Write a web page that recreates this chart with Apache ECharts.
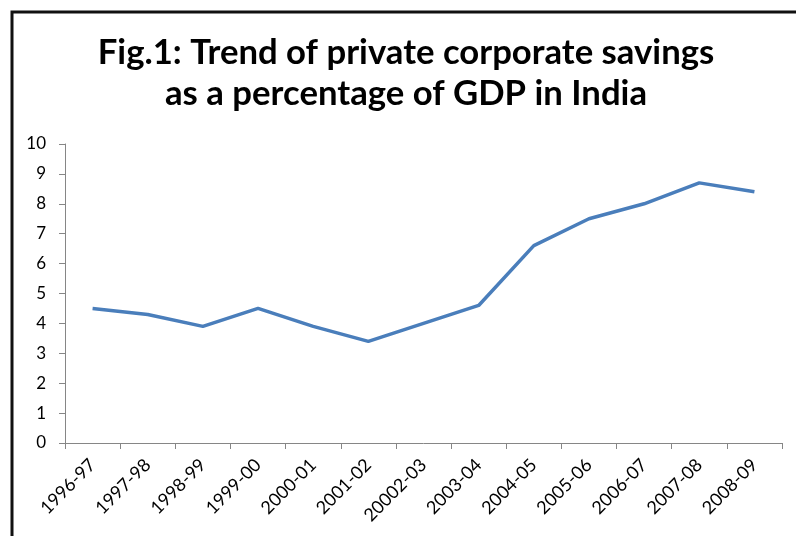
<!DOCTYPE html>
<html><head><meta charset="utf-8">
<script src="https://cdn.jsdelivr.net/npm/echarts@6/dist/echarts.min.js"></script>
<style>html,body{margin:0;padding:0;background:#fff}#c{width:796px;height:536px}</style>
</head><body><div id="c"></div>
<script>
const titleLines = ["Fig.1: Trend of private corporate savings", "as a percentage of GDP in India"];
const categories = ["1996-97","1997-98","1998-99","1999-00","2000-01","2001-02","20002-03","2003-04","2004-05","2005-06","2006-07","2007-08","2008-09"];
const savings = [4.5, 4.3, 3.9, 4.5, 3.9, 3.4, 4.0, 4.6, 6.6, 7.5, 8.0, 8.7, 8.4];
const yTicks = {min: 0, max: 10, interval: 1};

const chart = echarts.init(document.getElementById('c'), null, {renderer: 'canvas'});
chart.setOption({
  backgroundColor: '#fff',
  animation: false,
  graphic: [{
    type: 'rect', silent: true,
    shape: {x: 12, y: 12, width: 820, height: 600},
    style: {fill: null, stroke: '#111', lineWidth: 3}
  }, {
    type: 'text', silent: true,
    x: 406, y: 32,
    style: {
      text: titleLines.join('\n'),
      align: 'center', verticalAlign: 'top',
      font: 'bold 34.7px Lato', lineHeight: 41, fill: '#000'
    }
  }],
  grid: {left: 65, right: 14, top: 144, bottom: 93, containLabel: false},
  xAxis: {
    type: 'category',
    data: categories,
    boundaryGap: true,
    axisLine: {lineStyle: {color: '#868686', width: 1}},
    axisTick: {show: true, length: 6, alignWithLabel: false, lineStyle: {color: '#868686'}},
    axisLabel: {rotate: 45, interval: 0, margin: 19, fontFamily: 'Lato', fontSize: 18, color: '#000'}
  },
  yAxis: {
    type: 'value',
    min: yTicks.min, max: yTicks.max, interval: yTicks.interval,
    axisLine: {show: true, lineStyle: {color: '#868686', width: 1}},
    axisTick: {show: true, length: 6, lineStyle: {color: '#868686'}},
    splitLine: {show: false},
    axisLabel: {margin: 19, fontFamily: 'Lato', fontSize: 17, color: '#000'}
  },
  series: [{
    type: 'line',
    data: savings,
    symbol: 'none',
    lineStyle: {color: '#4a7ebb', width: 3.5},
    itemStyle: {color: '#4a7ebb'}
  }]
});
</script></body></html>
